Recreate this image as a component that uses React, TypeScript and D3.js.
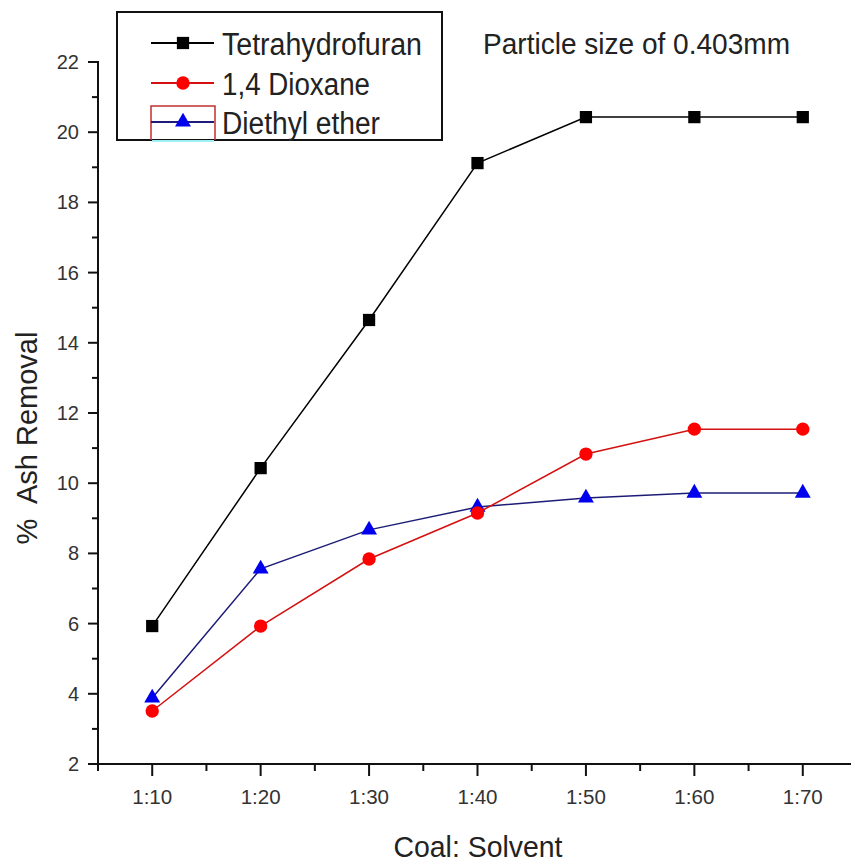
import React, { useRef, useEffect } from 'react';
import * as d3 from 'd3';

const ratios = ['1:10', '1:20', '1:30', '1:40', '1:50', '1:60', '1:70'];
const thf = [5.93, 10.43, 14.65, 19.12, 20.43, 20.43, 20.43];
const dioxane = [3.51, 5.93, 7.84, 9.15, 10.83, 11.54, 11.54];
const diethyl = [3.88, 7.56, 8.67, 9.32, 9.58, 9.72, 9.72];
const yTicks = [2, 4, 6, 8, 10, 12, 14, 16, 18, 20, 22];
const yMinor = [3, 5, 7, 9, 11, 13, 15, 17, 19, 21];

const W = 851;
const H = 862;
const FONT = "'Liberation Sans', Arial, sans-serif";

const App = () => {
    const svgRef = useRef<SVGSVGElement>(null);

    useEffect(() => {
        if (!svgRef.current) return;
        const svg = d3.select(svgRef.current);
        svg.selectAll('*').remove();

        const xScale = d3.scaleLinear().domain([-0.5, 6.5]).range([98, 857]);
        const yScale = d3.scaleLinear().domain([2, 22]).range([764, 62]);

        // y axis
        svg.append('line')
            .attr('x1', xScale(-0.5)).attr('x2', xScale(-0.5))
            .attr('y1', yScale(22) - 1).attr('y2', yScale(2) + 1)
            .attr('stroke', '#111').attr('stroke-width', 2);
        svg.selectAll('.ymaj').data(yTicks).enter().append('line')
            .attr('x1', xScale(-0.5) - 10).attr('x2', xScale(-0.5))
            .attr('y1', d => yScale(d)).attr('y2', d => yScale(d))
            .attr('stroke', '#111').attr('stroke-width', 2);
        svg.selectAll('.ymin').data(yMinor).enter().append('line')
            .attr('x1', xScale(-0.5) - 6).attr('x2', xScale(-0.5))
            .attr('y1', d => yScale(d)).attr('y2', d => yScale(d))
            .attr('stroke', '#111').attr('stroke-width', 2);
        svg.selectAll('.ylab').data(yTicks).enter().append('text')
            .attr('x', xScale(-0.5) - 19)
            .attr('y', d => yScale(d) + 7)
            .attr('text-anchor', 'end')
            .attr('font-family', FONT).attr('font-size', 20).attr('fill', '#333')
            .text(d => d);

        // x axis
        svg.append('line')
            .attr('x1', xScale(-0.5) - 1).attr('x2', W)
            .attr('y1', yScale(2)).attr('y2', yScale(2))
            .attr('stroke', '#111').attr('stroke-width', 2);
        svg.selectAll('.xmaj').data(ratios).enter().append('line')
            .attr('x1', (d, i) => xScale(i)).attr('x2', (d, i) => xScale(i))
            .attr('y1', yScale(2)).attr('y2', yScale(2) + 12)
            .attr('stroke', '#111').attr('stroke-width', 2);
        svg.selectAll('.xmin').data(d3.range(-0.5, 6.6, 1)).enter().append('line')
            .attr('x1', d => xScale(d)).attr('x2', d => xScale(d))
            .attr('y1', yScale(2)).attr('y2', yScale(2) + 7)
            .attr('stroke', '#111').attr('stroke-width', 2);
        svg.selectAll('.xlab').data(ratios).enter().append('text')
            .attr('x', (d, i) => xScale(i))
            .attr('y', yScale(2) + 40)
            .attr('text-anchor', 'middle')
            .attr('font-family', FONT).attr('font-size', 20).attr('fill', '#333')
            .attr('textLength', 40).attr('lengthAdjust', 'spacingAndGlyphs')
            .text(d => d);

        // axis titles
        svg.append('text')
            .attr('x', 478).attr('y', 857)
            .attr('text-anchor', 'middle')
            .attr('font-family', FONT).attr('font-size', 30).attr('fill', '#222')
            .attr('textLength', 169).attr('lengthAdjust', 'spacingAndGlyphs')
            .text('Coal: Solvent');
        svg.append('text')
            .attr('transform', 'translate(37,438) rotate(-90)')
            .attr('text-anchor', 'middle')
            .attr('font-family', FONT).attr('font-size', 29).attr('fill', '#222')
            .attr('xml:space', 'preserve')
            .text('%  Ash Removal');

        const line = d3.line<number>()
            .x((d, i) => xScale(i))
            .y(d => yScale(d));

        const series = [
            { name: 'Tetrahydrofuran', values: thf, line: '#000', fill: '#000', shape: d3.symbolSquare, size: 150 },
            { name: '1,4 Dioxane', values: dioxane, line: '#d41010', fill: '#ff0000', shape: d3.symbolCircle, size: 140 },
            { name: 'Diethyl ether', values: diethyl, line: '#1c1c78', fill: '#0000ee', shape: d3.symbolTriangle, size: 110 },
        ];

        // draw in reverse so THF is on top
        [...series].reverse().forEach(s => {
            svg.append('path')
                .attr('d', line(s.values))
                .attr('fill', 'none')
                .attr('stroke', s.line)
                .attr('stroke-width', 1.5);
            svg.selectAll(null).data(s.values).enter().append('path')
                .attr('d', d3.symbol().type(s.shape).size(s.size)())
                .attr('transform', (d, i) => `translate(${xScale(i)},${yScale(d)})`)
                .attr('fill', s.fill);
        });

        // legend
        const lg = svg.append('g');
        lg.append('rect')
            .attr('x', 117).attr('y', 12).attr('width', 325).attr('height', 128)
            .attr('fill', '#fff').attr('stroke', '#111').attr('stroke-width', 2);
        // Origin artifact around the last entry
        lg.append('line')
            .attr('x1', 152).attr('x2', 214).attr('y1', 141).attr('y2', 141)
            .attr('stroke', '#9ef0f5').attr('stroke-width', 2);
        lg.append('path')
            .attr('d', 'M151,140 V106 H215 V140')
            .attr('fill', 'none').attr('stroke', '#c03030').attr('stroke-width', 1.5);
        const rowY = [43, 83, 122];
        series.forEach((s, i) => {
            lg.append('line')
                .attr('x1', 151).attr('x2', 214)
                .attr('y1', rowY[i]).attr('y2', rowY[i])
                .attr('stroke', s.line).attr('stroke-width', 2);
            lg.append('path')
                .attr('d', d3.symbol().type(s.shape).size(s.size)())
                .attr('transform', `translate(183,${rowY[i]})`)
                .attr('fill', s.fill);
            lg.append('text')
                .attr('x', 222).attr('y', rowY[i] + 12)
                .attr('font-family', FONT).attr('font-size', 31).attr('fill', '#222')
                .attr('textLength', [200, 148, 158][i])
                .attr('lengthAdjust', 'spacingAndGlyphs')
                .text(s.name);
        });

        svg.append('text')
            .attr('x', 483).attr('y', 54)
            .attr('font-family', FONT).attr('font-size', 29).attr('fill', '#222')
            .attr('textLength', 307)
            .attr('lengthAdjust', 'spacingAndGlyphs')
            .text('Particle size of 0.403mm');
    }, []);

    return (
        <svg ref={svgRef} width={W} height={H}
            style={{ position: 'absolute', left: 0, top: 0, background: '#fff' }} />
    );
};

export default App;
